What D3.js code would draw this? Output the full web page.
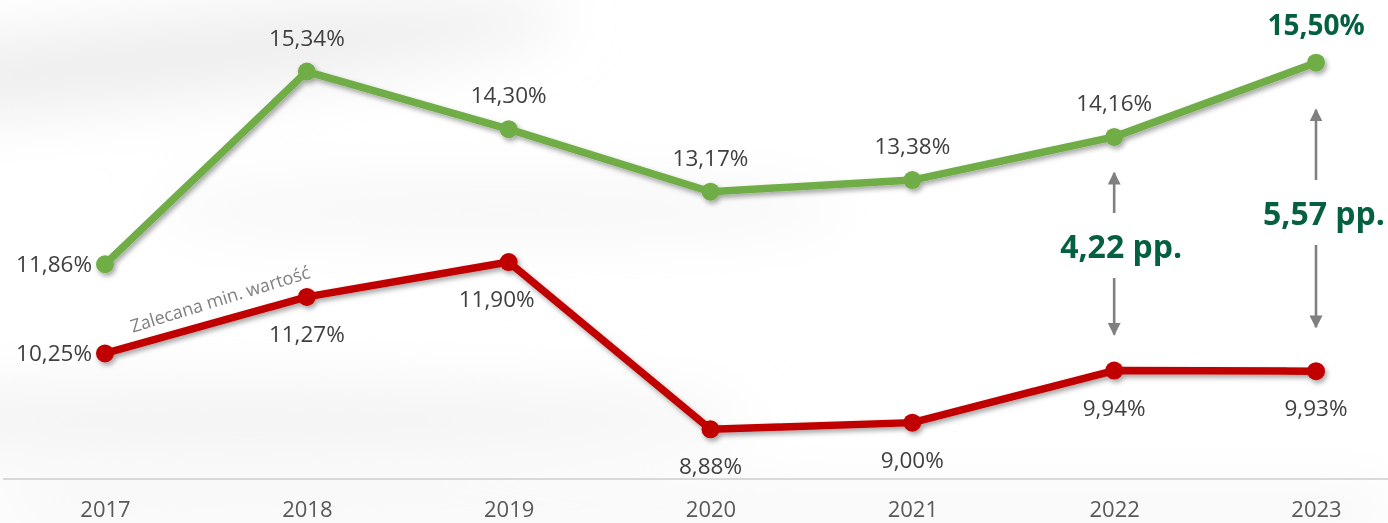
<!DOCTYPE html>
<html>
<head>
<meta charset="utf-8">
<script src="https://cdn.jsdelivr.net/npm/d3@7"></script>
<style>
  html, body { margin: 0; padding: 0; background: #fff; }
  #chart { width: 1388px; height: 523px; }
  text { font-family: "Open Sans", sans-serif; }
</style>
</head>
<body>
<div id="chart"></div>
<script>
// Chart data
const years = ["2017", "2018", "2019", "2020", "2021", "2022", "2023"];
const bankValues = [11.86, 15.34, 14.30, 13.17, 13.38, 14.16, 15.50];
const minValues = [10.25, 11.27, 11.90, 8.88, 9.00, 9.94, 9.93];
const gapYears = ["2022", "2023"];
const gapLabels = ["4,22 pp.", "5,57 pp."];
const minLineLabel = "Zalecana min. wartość";

const W = 1388, H = 523;

const svg = d3.select("#chart")
    .append("svg")
    .attr("width", W)
    .attr("height", H);

const defs = svg.append("defs");

// soft background texture
const bgBlur = defs.append("filter").attr("id", "bgblur")
    .attr("x", "-50%").attr("y", "-50%").attr("width", "200%").attr("height", "200%");
bgBlur.append("feGaussianBlur").attr("stdDeviation", 30);

const shadow = defs.append("filter").attr("id", "shadow")
    .attr("x", "-10%").attr("y", "-30%").attr("width", "120%").attr("height", "160%");
shadow.append("feDropShadow")
    .attr("dx", 2).attr("dy", 3).attr("stdDeviation", 2.5)
    .attr("flood-color", "#000").attr("flood-opacity", 0.35);

const marker = defs.append("marker")
    .attr("id", "arrow")
    .attr("viewBox", "0 0 10 10")
    .attr("refX", 9).attr("refY", 5)
    .attr("markerWidth", 5).attr("markerHeight", 5)
    .attr("markerUnits", "strokeWidth")
    .attr("orient", "auto");
marker.append("path").attr("d", "M0,0 L10,5 L0,10 Z").attr("fill", "#808080");

svg.append("rect").attr("width", W).attr("height", H).attr("fill", "#ffffff");
const bg = svg.append("g").attr("filter", "url(#bgblur)");
bg.append("ellipse").attr("cx", 150).attr("cy", 60).attr("rx", 420).attr("ry", 40)
    .attr("fill", "#e6e6e6").attr("opacity", 0.7).attr("transform", "rotate(-6,150,60)");
bg.append("ellipse").attr("cx", 250).attr("cy", 420).attr("rx", 500).attr("ry", 35)
    .attr("fill", "#ececec").attr("opacity", 0.7);
bg.append("ellipse").attr("cx", 500).attr("cy", 210).attr("rx", 350).attr("ry", 25)
    .attr("fill", "#f0f0f0").attr("opacity", 0.7);
bg.append("rect").attr("x", 0).attr("y", 490).attr("width", W).attr("height", 40)
    .attr("fill", "#eeeeee").attr("opacity", 0.6);

// Scales
const x = d3.scalePoint().domain(years).range([105, 1316]);
const y = d3.scaleLinear().domain([8, 16]).range([478, 35]);

// x axis
const xAxis = svg.append("g")
    .attr("transform", `translate(0,${y(8) + 1})`)
    .call(d3.axisBottom(x).tickSize(0).tickPadding(22));
xAxis.select(".domain").remove();
xAxis.append("line")
    .attr("x1", 3).attr("x2", W)
    .attr("stroke", "#d9d9d9").attr("stroke-width", 2);
xAxis.selectAll(".tick text")
    .attr("font-family", "'Open Sans', sans-serif")
    .attr("font-size", 22)
    .attr("fill", "#595959");

const line = d3.line()
    .x((d, i) => x(years[i]))
    .y(d => y(d));

function drawSeries(values, color) {
    const g = svg.append("g").attr("filter", "url(#shadow)");
    g.append("path")
        .datum(values)
        .attr("d", line)
        .attr("fill", "none")
        .attr("stroke", color)
        .attr("stroke-width", 7.5)
        .attr("stroke-linejoin", "round");
    g.selectAll("circle")
        .data(values)
        .enter()
        .append("circle")
        .attr("cx", (d, i) => x(years[i]))
        .attr("cy", d => y(d))
        .attr("r", 9)
        .attr("fill", color);
}

drawSeries(bankValues, "#70ad47");
drawSeries(minValues, "#c00000");

const fmt = v => v.toFixed(2).replace(".", ",") + "%";

// green labels
svg.selectAll(".lblTop")
    .data(bankValues)
    .enter()
    .append("text")
    .attr("class", "lblTop")
    .attr("x", (d, i) => i === 0 ? x(years[i]) - 13 : x(years[i]))
    .attr("y", (d, i) => i === 0 ? y(d) + 8 : (i === 6 ? y(d) - 28 : y(d) - 26))
    .attr("text-anchor", (d, i) => i === 0 ? "end" : "middle")
    .attr("font-size", (d, i) => i === 6 ? 28 : 22.5)
    .attr("font-weight", (d, i) => i === 6 ? "bold" : "normal")
    .attr("fill", (d, i) => i === 6 ? "#056040" : "#404040")
    .text(d => fmt(d));

// red labels
svg.selectAll(".lblBot")
    .data(minValues)
    .enter()
    .append("text")
    .attr("class", "lblBot")
    .attr("x", (d, i) => i === 0 ? x(years[i]) - 13 : (i === 2 ? x(years[i]) - 12 : x(years[i])))
    .attr("y", (d, i) => i === 0 ? y(d) + 8 : y(d) + 45)
    .attr("text-anchor", (d, i) => i === 0 ? "end" : "middle")
    .attr("font-size", 22.5)
    .attr("fill", "#404040")
    .text(d => fmt(d));

// recommended minimum note
const p0 = [x(years[0]), y(minValues[0])];
const p1 = [x(years[1]), y(minValues[1])];
const ang = Math.atan2(p1[1] - p0[1], p1[0] - p0[0]) * 180 / Math.PI - 1.5;
const mx = (p0[0] + p1[0]) / 2 + 16, my = (p0[1] + p1[1]) / 2 - 20;
svg.append("text")
    .attr("transform", `translate(${mx},${my}) rotate(${ang})`)
    .attr("text-anchor", "middle")
    .attr("font-size", 18)
    .attr("fill", "#7f7f7f")
    .text(minLineLabel);

// gap arrows and labels
const gapTextY = [258, 225];
gapYears.forEach((yr, k) => {
    const i = years.indexOf(yr);
    const cx = x(yr);
    const top = y(bankValues[i]) + (k === 0 ? 36 : 47);
    const bot = y(minValues[i]) - (k === 0 ? 36 : 44);
    const ty = gapTextY[k];
    const g = svg.append("g");
    g.append("line")
        .attr("x1", cx).attr("x2", cx)
        .attr("y1", ty - 45).attr("y2", top)
        .attr("stroke", "#808080").attr("stroke-width", 2.6)
        .attr("marker-end", "url(#arrow)");
    g.append("line")
        .attr("x1", cx).attr("x2", cx)
        .attr("y1", ty + 20).attr("y2", bot)
        .attr("stroke", "#808080").attr("stroke-width", 2.6)
        .attr("marker-end", "url(#arrow)");
    g.append("text")
        .attr("x", cx + (k === 0 ? 7 : 8))
        .attr("y", ty)
        .attr("text-anchor", "middle")
        .attr("font-size", 32)
        .attr("font-weight", "bold")
        .attr("fill", "#056040")
        .text(gapLabels[k]);
});
</script>
</body>
</html>
